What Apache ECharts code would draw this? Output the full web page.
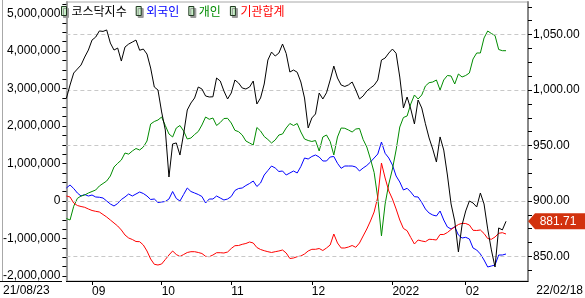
<!DOCTYPE html>
<html><head><meta charset="utf-8">
<script src="https://cdn.jsdelivr.net/npm/echarts@6/dist/echarts.min.js"></script>
<style>html,body{margin:0;padding:0;background:#fff}#c{width:585px;height:298px}</style>
</head><body><div id="c"></div>
<script>
const dates = [
'2021-08-23','2021-08-24','2021-08-25','2021-08-26','2021-08-27','2021-08-30','2021-08-31',
'2021-09-01','2021-09-02','2021-09-03','2021-09-06','2021-09-07','2021-09-08','2021-09-09','2021-09-10','2021-09-13','2021-09-14','2021-09-15','2021-09-16','2021-09-17','2021-09-23','2021-09-24','2021-09-27','2021-09-28','2021-09-29','2021-09-30',
'2021-10-01','2021-10-05','2021-10-06','2021-10-07','2021-10-08','2021-10-12','2021-10-13','2021-10-14','2021-10-15','2021-10-18','2021-10-19','2021-10-20','2021-10-21','2021-10-22','2021-10-25','2021-10-26','2021-10-27','2021-10-28','2021-10-29',
'2021-11-01','2021-11-02','2021-11-03','2021-11-04','2021-11-05','2021-11-08','2021-11-09','2021-11-10','2021-11-11','2021-11-12','2021-11-15','2021-11-16','2021-11-17','2021-11-18','2021-11-19','2021-11-22','2021-11-23','2021-11-24','2021-11-25','2021-11-26','2021-11-29','2021-11-30',
'2021-12-01','2021-12-02','2021-12-03','2021-12-06','2021-12-07','2021-12-08','2021-12-09','2021-12-10','2021-12-13','2021-12-14','2021-12-15','2021-12-16','2021-12-17','2021-12-20','2021-12-21','2021-12-22','2021-12-23','2021-12-24','2021-12-27','2021-12-28','2021-12-29','2021-12-30',
'2022-01-03','2022-01-04','2022-01-05','2022-01-06','2022-01-07','2022-01-10','2022-01-11','2022-01-12','2022-01-13','2022-01-14','2022-01-17','2022-01-18','2022-01-19','2022-01-20','2022-01-21','2022-01-24','2022-01-25','2022-01-26','2022-01-27','2022-01-28',
'2022-02-03','2022-02-04','2022-02-07','2022-02-08','2022-02-09','2022-02-10','2022-02-11','2022-02-14','2022-02-15','2022-02-16','2022-02-17','2022-02-18'];

const kosdaq = [
992.5,1004.5,1015.3,1018.9,1022.5,1029.7,1036.0,1045.0,1047.7,1053.2,
1052.8,1054.1,1042.3,1036.0,1037.8,1026.1,1038.7,1041.4,1043.2,1045.0,
1035.8,1036.9,1032.4,1019.8,1002.7,1000.0,980.2,964.0,921.6,951.4,
952.3,941.4,960.4,982.0,988.3,992.8,1002.7,1000.9,994.6,993.7,
993.9,1010.8,1008.1,999.1,991.9,997.3,1009.0,1006.3,1001.8,1000.9,
1002.7,1008.1,987.4,992.8,1005.4,1027.0,1034.2,1030.6,1033.3,1041.4,
1032.9,1016.2,1018.0,1016.0,1007.2,992.8,965.8,974.8,978.4,997.3,
991.9,997.5,1009.0,1021.6,1010.8,1004.5,1003.2,1004.6,1007.2,1000.0,
991.9,994.6,999.1,1001.8,1004.3,1009.0,1027.0,1028.8,1033.3,1036.9,
1033.1,1011.7,983.8,993.7,982.9,969.4,991.0,983.8,969.6,956.8,
946.8,935.1,957.7,945.9,923.4,897.3,882.0,854.1,878.4,891.0,
900.0,898.2,894.6,907.2,897.3,874.8,855.9,840.5,875.7,873.9,
881.71];

const foreign = [
347000,427000,333000,213000,133000,173000,133000,160000,107000,100000,
80000,0,-80000,-133000,-67000,40000,107000,187000,133000,187000,
240000,200000,133000,40000,53000,-40000,-27000,-13000,53000,253000,
67000,0,173000,347000,253000,213000,173000,120000,-53000,53000,
53000,133000,80000,27000,53000,120000,280000,333000,347000,413000,
467000,533000,387000,480000,693000,813000,933000,880000,787000,800000,
693000,747000,800000,747000,920000,1147000,1120000,1187000,1227000,1173000,
1067000,1067000,1173000,1187000,1005000,872000,933000,933000,933000,907000,
800000,880000,947000,1040000,1147000,1253000,1573000,1272000,1147000,960000,
667000,507000,293000,339000,240000,115000,107000,-40000,-213000,-320000,
-373000,-400000,-267000,-507000,-693000,-747000,-685000,-907000,-987000,-968000,
-1013000,-1253000,-1307000,-1413000,-1573000,-1760000,-1733000,-1707000,-1440000,-1440000,
-1413000];

const individual = [
-467000,-507000,-140000,70000,133000,160000,213000,253000,293000,400000,
467000,533000,667000,907000,1005000,1093000,1280000,1250000,1333000,1400000,
1360000,1440000,1600000,2053000,2120000,2160000,2240000,2013000,1787000,1707000,
1947000,2013000,1867000,1653000,1680000,1773000,1853000,2027000,2240000,2179000,
2213000,2013000,2093000,2200000,2205000,2080000,1885000,1848000,1760000,1600000,
1547000,1493000,1960000,1867000,1720000,1640000,1547000,1627000,1760000,1787000,
1947000,2067000,2013000,2067000,1840000,1653000,1613000,1587000,1613000,1333000,
1707000,1760000,1587000,1227000,1707000,1947000,1939000,1893000,1840000,1920000,
1933000,1640000,1440000,1120000,760000,80000,-930000,-80000,453000,853000,
1360000,1973000,2227000,2267000,2587000,2827000,2720000,2827000,3067000,3155000,
3173000,3227000,2960000,3227000,3347000,3333000,3120000,3387000,3307000,3347000,
3413000,3787000,3947000,3947000,4347000,4533000,4467000,4413000,4040000,4008000,
4008000];

const institution = [
133000,107000,-53000,-120000,-147000,-168000,-213000,-253000,-275000,-293000,
-360000,-427000,-507000,-587000,-667000,-773000,-907000,-987000,-1027000,-1080000,
-1085000,-1173000,-1333000,-1547000,-1688000,-1707000,-1680000,-1560000,-1440000,-1333000,
-1427000,-1480000,-1427000,-1373000,-1352000,-1352000,-1373000,-1400000,-1475000,-1485000,
-1440000,-1379000,-1379000,-1387000,-1360000,-1267000,-1192000,-1187000,-1155000,-1133000,
-1093000,-1120000,-1240000,-1293000,-1325000,-1352000,-1373000,-1352000,-1333000,-1307000,
-1387000,-1533000,-1520000,-1485000,-1467000,-1413000,-1333000,-1288000,-1288000,-1267000,
-1320000,-1253000,-1173000,-880000,-1120000,-1253000,-1253000,-1227000,-1187000,-1235000,
-1120000,-933000,-747000,-533000,-293000,107000,1013000,613000,267000,53000,
-213000,-507000,-733000,-792000,-973000,-1147000,-1040000,-1067000,-1085000,-1021000,
-1027000,-1040000,-893000,-893000,-840000,-760000,-693000,-627000,-595000,-600000,
-640000,-781000,-787000,-773000,-867000,-1000000,-1021000,-960000,-861000,-845000,
-880000];

const leftLabels = [-2000000,-1000000,0,1000000,2000000,3000000,4000000,5000000];
const rightLabels = [850,900,950,1000,1050];
const seriesNames = ['코스닥지수','외국인','개인','기관합계'];
const seriesColors = ['#000000','#0000ff','#008c00','#ff0000'];

const leftTicks = [];
for (let v = -2000000; v <= 5250000; v += 250000) leftTicks.push(v);
const rightTicks = [];
for (let v = 837.5; v <= 1075; v += 12.5) rightTicks.push(v);

const monthStart = dates.map((d, i) => i > 0 && d.slice(5, 7) !== dates[i - 1].slice(5, 7));
const numFont = 'Liberation Sans, Arial, sans-serif';

const chart = echarts.init(document.getElementById('c'), null, {renderer: 'canvas'});
const lineSeries = (name, data, yIdx, color, z) => ({
  name, type: 'line', data, yAxisIndex: yIdx, showSymbol: false, symbol: 'none',
  lineStyle: {width: 1, color}, itemStyle: {color}, z, silent: true, animation: false
});

chart.setOption({
  animation: false,
  grid: {left: 62, right: 57, top: 2, bottom: 17, show: true, borderColor: '#a8a8a8', borderWidth: 1},
  legend: {
    left: 61, top: 5, padding: 0, itemWidth: 5, itemHeight: 9, itemGap: 9, icon: 'rect', selectedMode: false,
    data: seriesNames.map((n, k) => ({name: n, textStyle: {color: seriesColors[k]}})),
    itemStyle: {color: '#c8f0c8', borderColor: '#203820', borderWidth: 1, shadowColor: '#999', shadowOffsetX: 2, shadowOffsetY: 2, shadowBlur: 0},
    textStyle: {fontSize: 12, fontFamily: 'Noto Sans CJK KR'}
  },
  xAxis: {
    type: 'category', data: dates, boundaryGap: false, max: 126,
    axisLine: {onZero: false, lineStyle: {color: '#000', width: 1}},
    axisTick: {interval: (i) => !!monthStart[i], length: 4, lineStyle: {color: '#000'}},
    axisLabel: {interval: (i) => !!monthStart[i], align: 'left', margin: 5, fontSize: 12, color: '#000', fontFamily: numFont,
      formatter: (v) => v.slice(5, 7) === '01' ? v.slice(0, 4) : v.slice(5, 7)},
    splitLine: {show: false}
  },
  yAxis: [
    {
      type: 'value', position: 'left', min: -2133333, max: 5306667,
      axisLine: {show: true, onZero: false, lineStyle: {color: '#a0a0a0', width: 2}},
      axisTick: {show: true, length: 4, customValues: leftTicks, lineStyle: {color: '#000'}},
      axisLabel: {customValues: leftLabels, margin: 6, fontSize: 12, color: '#000', fontFamily: numFont,
        formatter: (v) => Number(v).toLocaleString('en-US')},
      splitLine: {show: false}
    },
    {
      type: 'value', position: 'right', min: 827.9, max: 1079.3, splitNumber: 5,
      axisLine: {show: true, onZero: false, lineStyle: {color: '#888', width: 2}},
      axisTick: {show: true, length: 4, customValues: rightTicks, lineStyle: {color: '#000'}},
      axisLabel: {customValues: rightLabels, margin: 5, fontSize: 12, color: '#000', fontFamily: numFont,
        formatter: (v) => Number(v).toLocaleString('en-US', {minimumFractionDigits: 2, maximumFractionDigits: 2})},
      splitLine: {show: false}
    }
  ],
  series: [
    {
      name: 'grid-lines', type: 'line', data: [], yAxisIndex: 1, z: 1, silent: true,
      markLine: {
        silent: true, symbol: ['none', 'none'], animation: false,
        label: {show: false},
        lineStyle: {color: '#c8c8c8', type: [4, 3], width: 1},
        data: rightLabels.map((v) => ({yAxis: v}))
      }
    },
    lineSeries(seriesNames[1], foreign, 0, seriesColors[1], 2),
    lineSeries(seriesNames[2], individual, 0, seriesColors[2], 3),
    lineSeries(seriesNames[3], institution, 0, seriesColors[3], 4),
    lineSeries(seriesNames[0], kosdaq, 1, seriesColors[0], 5)
  ]
});

const last = kosdaq[kosdaq.length - 1];
const ty = chart.convertToPixel({yAxisIndex: 1}, last);
const fmtDate = (d) => d.slice(2).replace(/-/g, '/');
chart.setOption({
  graphic: [
    {type: 'line', shape: {x1: 0, y1: 281.5, x2: 62, y2: 281.5}, style: {stroke: '#000', lineWidth: 1}, silent: true},
    {type: 'line', shape: {x1: 2.5, y1: 0, x2: 2.5, y2: 281}, style: {stroke: '#a8a8a8', lineWidth: 1}, silent: true},
    {type: 'text', left: 3, top: 285, style: {text: fmtDate(dates[0]), fill: '#000', font: '12px ' + numFont}, silent: true},
    {type: 'text', right: 2, top: 285, style: {text: fmtDate(dates[dates.length - 1]), fill: '#000', font: '12px ' + numFont}, silent: true},
    {type: 'polygon', shape: {points: [[528, ty], [535, ty - 8], [585, ty - 8], [585, ty + 8], [535, ty + 8]]},
      style: {fill: '#d2320e'}, silent: true, z: 10},
    {type: 'text', x: 558, y: ty, z: 11, silent: true,
      style: {text: last.toFixed(2), fill: '#fff', font: '12px ' + numFont, align: 'center', verticalAlign: 'middle'}}
  ]
});
</script>
</body></html>
